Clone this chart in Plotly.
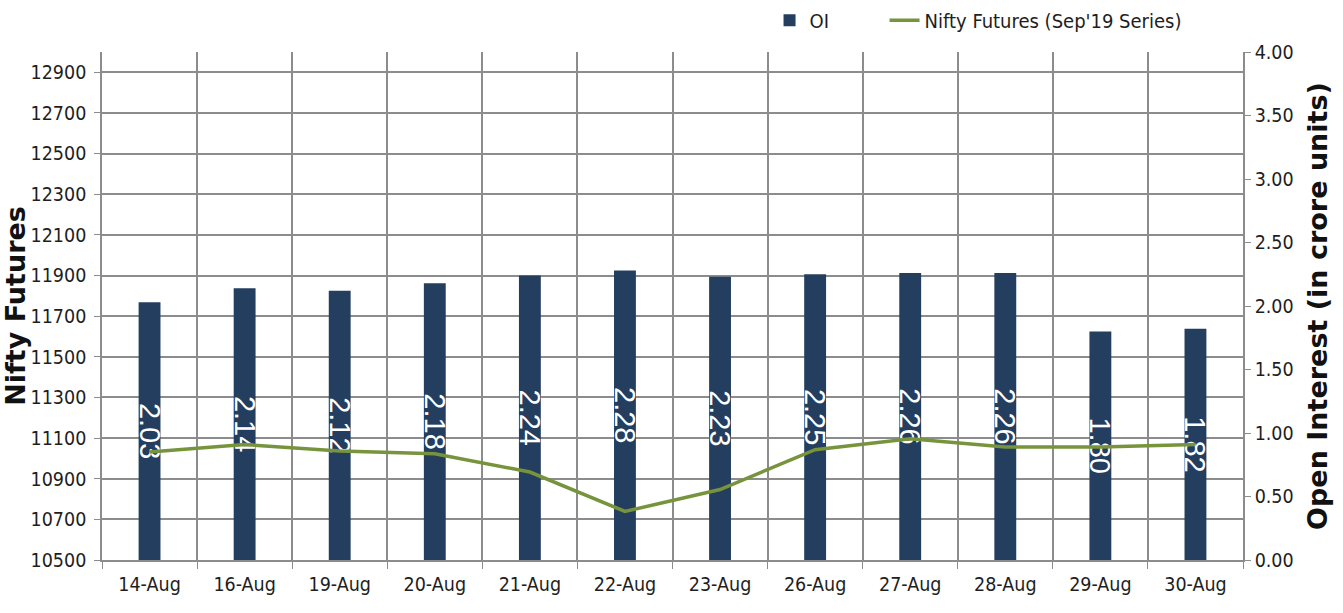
import plotly.graph_objects as go

dates = ["14-Aug", "16-Aug", "19-Aug", "20-Aug", "21-Aug", "22-Aug",
         "23-Aug", "26-Aug", "27-Aug", "28-Aug", "29-Aug", "30-Aug"]
oi = [2.03, 2.14, 2.12, 2.18, 2.24, 2.28, 2.23, 2.25, 2.26, 2.26, 1.80, 1.82]
nifty = [11031, 11068, 11036, 11023, 10933, 10739, 10847, 11043, 11097, 11056, 11056, 11068]

GRID = "#8c8c8c"
FAM = "DejaVu Sans Condensed, Liberation Sans Narrow, Liberation Sans, sans-serif"
TICKFONT = dict(family=FAM, size=19.5, color="#1e1e1e")

fig = go.Figure()
fig.add_trace(go.Bar(
    x=dates, y=oi, name="OI", yaxis="y",
    marker=dict(color="#233E5F", line=dict(width=0)),
    width=0.23, legendwidth=70,
    text=[f"{v:.2f}" for v in oi],
    textposition="inside", insidetextanchor="middle",
    textangle=90, constraintext="none",
    textfont=dict(family="Liberation Sans", size=29, color="white"),
))
fig.add_trace(go.Scatter(
    x=dates, y=nifty, name="Nifty Futures (Sep'19 Series)", yaxis="y2",
    mode="lines", line=dict(color="#77943C", width=3.5),
))

fig.update_layout(
    width=1343, height=613,
    margin=dict(l=102, r=100, t=52, b=53),
    plot_bgcolor="white", paper_bgcolor="white",
    showlegend=True,
    legend=dict(orientation="h", xref="container", yref="container",
                x=0.573, xanchor="left", y=0.967, yanchor="middle",
                font=dict(family=FAM, size=20, color="#1e1e1e"),
                bgcolor="rgba(0,0,0,0)", itemwidth=30),
    xaxis=dict(type="category", tickson="boundaries", ticks="outside", ticklen=7,
               tickcolor=GRID, showline=True, linecolor=GRID, linewidth=1.5,
               showgrid=True, gridcolor=GRID, gridwidth=1.5, automargin=False,
               tickfont=TICKFONT, ticklabelstandoff=6, fixedrange=True),
    yaxis=dict(side="right", range=[0, 4], dtick=0.5, tick0=0, tickformat=".2f",
               showgrid=False, zeroline=False, showline=True, linecolor=GRID, linewidth=1.5,
               ticks="outside", ticklen=6, tickcolor=GRID, tickfont=TICKFONT,
               ticklabelstandoff=0, automargin=False,
               title=dict(text="Open Interest (in crore units)", standoff=15,
                          font=dict(family="DejaVu Sans", size=27, color="#111", weight="bold"))),
    yaxis2=dict(side="left", overlaying="y", range=[10500, 13000], tick0=10500, dtick=200,
                tickformat="d",
                showgrid=True, gridcolor=GRID, gridwidth=1.5, zeroline=False,
                showline=True, linecolor=GRID, linewidth=1.5,
                ticks="outside", ticklen=6, tickcolor=GRID, tickfont=TICKFONT,
                ticklabelstandoff=4, automargin=False,
                title=dict(text="Nifty Futures", standoff=0,
                           font=dict(family="DejaVu Sans", size=27, color="#111", weight="bold"))),
)

fig.write_html("out.html")
